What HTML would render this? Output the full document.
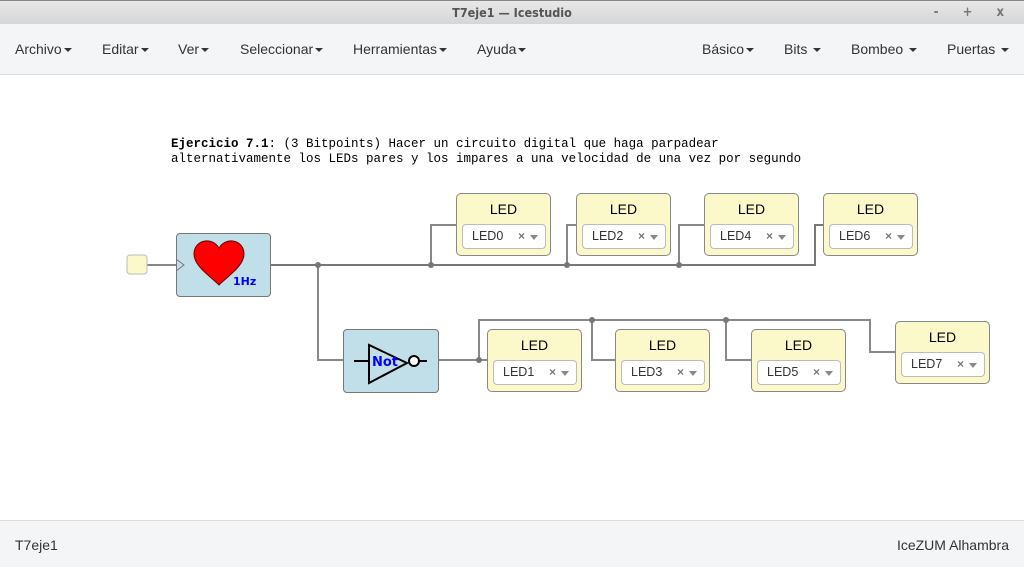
<!DOCTYPE html>
<html><head><meta charset="utf-8">
<style>
*{margin:0;padding:0;box-sizing:border-box}
body{width:1024px;height:567px;overflow:hidden;background:#fff;font-family:"Liberation Sans",sans-serif;position:relative}
.title{position:absolute;left:0;top:0;width:1024px;height:24px;background:linear-gradient(#e8e8e8,#d6d6d6);border-top:1px solid #888;text-align:center;font:bold 12.5px "DejaVu Sans Condensed","DejaVu Sans",sans-serif;color:#555;line-height:24px}
.wc{position:absolute;right:10px;top:0;font-size:13px;color:#777;letter-spacing:10px}
.menu{position:absolute;left:0;top:24px;width:1024px;height:51px;background:#f4f5f7;border-bottom:1px solid #ddd}
.m{position:absolute;top:17px;font-size:14px;color:#333}
.c{display:inline-block;width:0;height:0;border-left:4px solid transparent;border-right:4px solid transparent;border-top:4px solid #333;vertical-align:middle;margin-left:2px}
.foot{position:absolute;left:0;top:520px;width:1024px;height:47px;background:#f4f5f7;border-top:1px solid #ddd;font-size:14px;color:#333}
.txt{position:absolute;left:171px;top:137px;font:12.5px/15px "Liberation Mono",monospace;color:#000;white-space:pre}
.led{position:absolute;width:95px;height:63px;background:#fbf8c9;border:1px solid #888;border-radius:5px}
.led .h{position:absolute;top:7px;width:100%;text-align:center;font-size:14px;color:#000}
.led .s{position:absolute;left:5px;top:30px;width:84px;height:25px;background:#fff;border:1px solid #bbb;border-radius:4px;font-size:12.5px;color:#333;line-height:23px;padding-left:9px}
.led .s i{position:absolute;right:7px;top:10px;border-left:4px solid transparent;border-right:4px solid transparent;border-top:5px solid #888}
.led .s b{position:absolute;right:20px;top:0;font-weight:bold;color:#777;font-size:12px}
.blk{position:absolute;background:#c1dfe9;border:1px solid #777;border-radius:4px}
</style></head><body>
<div class="title">T7eje1 — Icestudio<span class="wc">- + x</span></div>
<div class="menu">
<span class="m" style="left:15px">Archivo<span class="c"></span></span>
<span class="m" style="left:102px">Editar<span class="c"></span></span>
<span class="m" style="left:178px">Ver<span class="c"></span></span>
<span class="m" style="left:240px">Seleccionar<span class="c"></span></span>
<span class="m" style="left:353px">Herramientas<span class="c"></span></span>
<span class="m" style="left:477px">Ayuda<span class="c"></span></span>
<span class="m" style="left:702px">Básico<span class="c"></span></span>
<span class="m" style="left:784px">Bits <span class="c"></span></span>
<span class="m" style="left:851px">Bombeo <span class="c"></span></span>
<span class="m" style="left:947px">Puertas <span class="c"></span></span>
</div>
<div class="txt"><b>Ejercicio 7.1</b>: (3 Bitpoints) Hacer un circuito digital que haga parpadear
alternativamente los LEDs pares y los impares a una velocidad de una vez por segundo</div>

<svg style="position:absolute;left:0;top:0" width="1024" height="567">
<g fill="none" stroke="#888" stroke-width="2">
<path d="M147 265H176"/>
<path d="M270 265H815V225H823" stroke="#777"/>
<path d="M431 265V225H456M567 265V225H576M679 265V225H704"/>
<path d="M318 265V360H344"/>
<path d="M438 360H487M479 360V320H870V352H895M592 320V360H615M726 320V360H751"/>
</g>
<g fill="#777">
<circle cx="318" cy="265" r="3"/><circle cx="431" cy="265" r="3"/><circle cx="567" cy="265" r="3"/><circle cx="679" cy="265" r="3"/>
<circle cx="479" cy="360" r="3"/><circle cx="592" cy="320" r="3"/><circle cx="726" cy="320" r="3"/>
</g>
<rect x="127" y="255" width="20" height="19" rx="3" fill="#fbf8c9" stroke="#bbb"/>
</svg>

<div class="blk" style="left:176px;top:233px;width:95px;height:64px"></div>
<div class="blk" style="left:343px;top:329px;width:96px;height:64px"></div>
<svg style="position:absolute;left:0;top:0" width="1024" height="567">
<path d="M176 259L184 265L176 271" fill="none" stroke="#777" stroke-width="1"/>
<path d="M219 285C210 276 194 266 194 254C194 240 212 236 219 248C226 236 244 240 244 254C244 266 228 276 219 285Z" fill="#f00" stroke="#600" stroke-width="1"/>
<text x="233" y="285" font-family="DejaVu Sans" font-weight="bold" font-size="11" fill="#00f">1Hz</text>
<g stroke="#000" stroke-width="2" fill="none">
<path d="M354 361H369M419 361H427"/>
<path d="M369 345L369 383L407 363Z"/>
<circle cx="414" cy="361" r="5" fill="#fff"/>
</g>
<text x="372" y="366" font-family="DejaVu Sans" font-weight="bold" font-size="13" fill="#00f">Not</text>
</svg>

<div class="led" style="left:456px;top:193px"><div class="h">LED</div><div class="s">LED0<b>×</b><i></i></div></div>
<div class="led" style="left:576px;top:193px"><div class="h">LED</div><div class="s">LED2<b>×</b><i></i></div></div>
<div class="led" style="left:704px;top:193px"><div class="h">LED</div><div class="s">LED4<b>×</b><i></i></div></div>
<div class="led" style="left:823px;top:193px"><div class="h">LED</div><div class="s">LED6<b>×</b><i></i></div></div>
<div class="led" style="left:487px;top:329px"><div class="h">LED</div><div class="s">LED1<b>×</b><i></i></div></div>
<div class="led" style="left:615px;top:329px"><div class="h">LED</div><div class="s">LED3<b>×</b><i></i></div></div>
<div class="led" style="left:751px;top:329px"><div class="h">LED</div><div class="s">LED5<b>×</b><i></i></div></div>
<div class="led" style="left:895px;top:321px"><div class="h">LED</div><div class="s">LED7<b>×</b><i></i></div></div>

<div class="foot"><span style="position:absolute;left:15px;top:16px">T7eje1</span><span style="position:absolute;right:15px;top:16px">IceZUM Alhambra</span></div>
</body></html>
